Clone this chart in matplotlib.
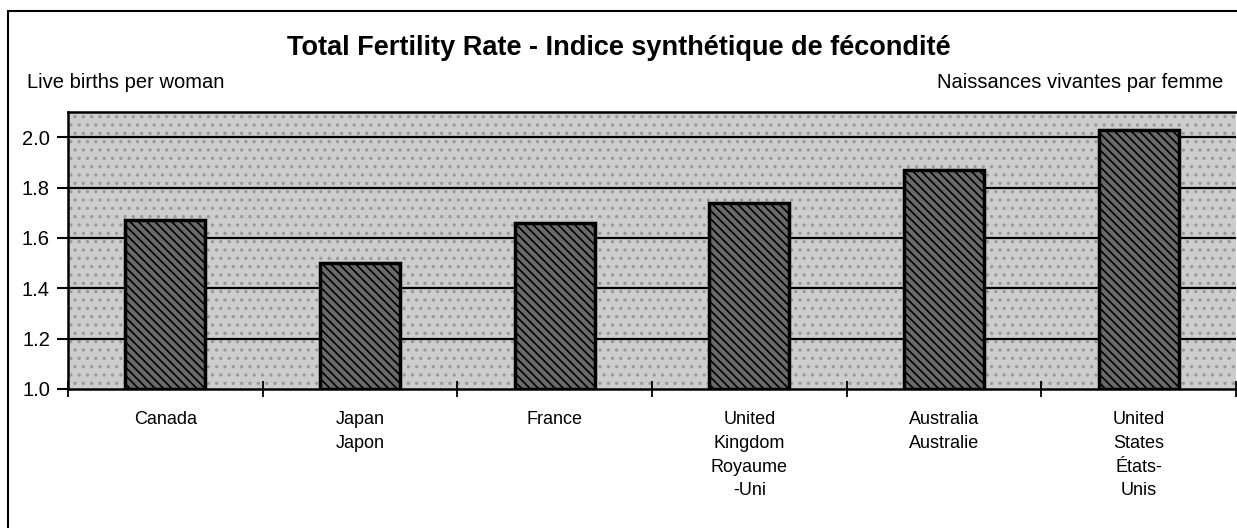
import numpy as np
import matplotlib.pyplot as plt
from matplotlib.patches import Rectangle

plt.rcParams['font.family'] = ['Liberation Sans', 'DejaVu Sans']
plt.rcParams['hatch.linewidth'] = 1.2

# data
countries = ['Canada', 'Japan\nJapon', 'France', 'United\nKingdom\nRoyaume\n-Uni',
             'Australia\nAustralie', 'United\nStates\nÉtats-\nUnis']
tfr = [1.67, 1.50, 1.66, 1.74, 1.87, 2.03]
yticks = [1.0, 1.2, 1.4, 1.6, 1.8, 2.0]

fig = plt.figure(figsize=(12.37, 5.28), dpi=100)
ax = fig.add_axes([68/1237, 1 - 389/528, (1236-68)/1237, (389-112)/528])

# outer frame around the whole chart
fig.patches.append(Rectangle((8/1237, -0.05), 1.1, 1 - 11/528 + 0.05,
                             transform=fig.transFigure, fill=False,
                             edgecolor='black', linewidth=1.5))

ax.set_facecolor('#cdcdcd')
ax.patch.set_hatch('..')
ax.patch.set_edgecolor('#9a9a9a')

x = np.arange(len(countries))
for yv in yticks[1:]:
    ax.axhline(yv, color='black', linewidth=1.6, zorder=1)
ax.bar(x, np.array(tfr) - 1.0, bottom=1.0, width=0.41, color='#6a6a6a',
       edgecolor='black', linewidth=2.5, hatch='\\\\\\\\', zorder=2)

ax.set_xlim(-0.5, len(countries) - 0.5)
ax.set_ylim(1.0, 2.1)
ax.set_yticks(yticks)
ax.set_yticklabels([f'{v:.1f}' for v in yticks], fontsize=14.5)
ax.tick_params(axis='y', direction='out', length=8, width=1.5, pad=5)
ax.set_xticks(np.arange(len(countries) + 1) - 0.5)
ax.set_xticklabels([])
ax.tick_params(axis='x', direction='inout', length=12, width=1.3)

for xi, lab in zip(x, countries):
    ax.text(xi, -0.08, lab, transform=ax.get_xaxis_transform(), ha='center',
            va='top', fontsize=13, linespacing=1.52)

for s in ['top', 'left', 'bottom']:
    ax.spines[s].set_linewidth(1.8)
ax.spines['right'].set_visible(False)

fig.text(0.5, 1 - 48/528, 'Total Fertility Rate - Indice synthétique de fécondité',
         ha='center', va='center', fontsize=19.5, fontweight='bold')
fig.text(27/1237, 1 - 82/528, 'Live births per woman', ha='left', va='center',
         fontsize=14.5)
fig.text(1223/1237, 1 - 82/528, 'Naissances vivantes par femme', ha='right',
         va='center', fontsize=14.5)

fig.savefig('out.png', dpi=100)
